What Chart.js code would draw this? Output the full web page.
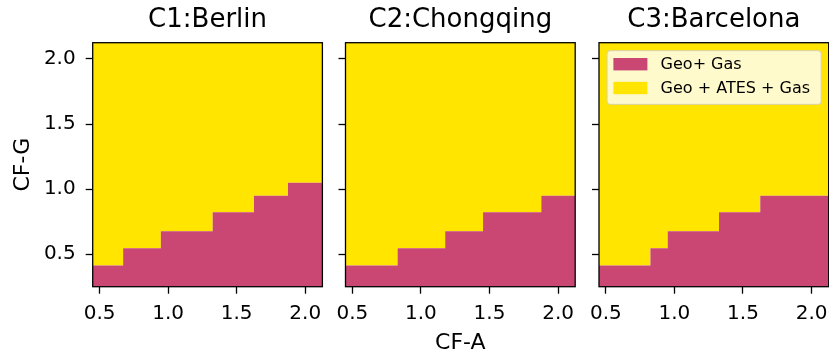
<!DOCTYPE html>
<html>
<head>
<meta charset="utf-8">
<script src="https://cdn.jsdelivr.net/npm/chart.js@4.4.1/dist/chart.umd.min.js"></script>
<style>
  html, body { margin: 0; padding: 0; background: #ffffff; overflow: hidden; width: 829px; height: 358px; }
  .panel { position: absolute; top: 0; }
</style>
</head>
<body>
<div class="panel" id="p0"><canvas id="c0"></canvas></div>
<div class="panel" id="p1"><canvas id="c1"></canvas></div>
<div class="panel" id="p2"><canvas id="c2"></canvas></div>
<script>
// ---- data ----
const cityTitles = ['C1:Berlin', 'C2:Chongqing', 'C3:Barcelona'];
const seriesLabels = ['Geo+ Gas', 'Geo + ATES + Gas'];

// CF-A positions where the boundary steps, and CF-G level of the boundary on each step
const berlinStepX    = [0.45, 0.672, 0.947, 1.325, 1.626, 1.874, 2.125];
const berlinStepY    = [0.413, 0.546, 0.677, 0.823, 0.949, 1.048];
const chongqingStepX = [0.45, 0.830, 1.177, 1.453, 1.878, 2.125];
const chongqingStepY = [0.413, 0.546, 0.677, 0.823, 0.949];
const barcelonaStepX = [0.45, 0.825, 0.951, 1.325, 1.626, 2.125];
const barcelonaStepY = [0.413, 0.546, 0.677, 0.823, 0.949];

const xTickValues = [0.5, 1.0, 1.5, 2.0];
const yTickValues = [0.5, 1.0, 1.5, 2.0];
const xRange = [0.45, 2.125];
const yRange = [0.25, 2.125];
const xAxisTitle = 'CF-A';
const yAxisTitle = 'CF-G';

// ---- styling / layout ----
const PINK = '#C94772';
const YELLOW = '#FFE500';
const INK = '#000000';
const FONT = "'DejaVu Sans', 'Liberation Sans', sans-serif";
const PLOT_W = 229.7;
const panels = [
  { left: 0,   yw: 92.7, stepX: berlinStepX,    stepY: berlinStepY,    showYLabels: true,  showXTitle: false, legend: false },
  { left: 315, yw: 30.5, stepX: chongqingStepX, stepY: chongqingStepY, showYLabels: false, showXTitle: true,  legend: false },
  { left: 569, yw: 30.0, stepX: barcelonaStepX, stepY: barcelonaStepY, showYLabels: false, showXTitle: false, legend: true  }
];

// points for a step line: horizontal run on each level, then a jump at the next break
function stepPoints(xs, ys) {
  const pts = [];
  for (let i = 0; i < ys.length; i++) pts.push({ x: xs[i], y: ys[i] });
  pts.push({ x: xs[xs.length - 1], y: ys[ys.length - 1] });
  return pts;
}

const framePlugin = {
  id: 'frame',
  afterDatasetsDraw(chart) {
    const a = chart.chartArea, ctx = chart.ctx;
    ctx.save();
    ctx.strokeStyle = INK;
    ctx.lineWidth = 1.3;
    ctx.strokeRect(a.left, a.top, a.right - a.left, a.bottom - a.top);
    ctx.restore();
  }
};

function roundRect(ctx, x, y, w, h, r) {
  ctx.beginPath();
  ctx.moveTo(x + r, y);
  ctx.lineTo(x + w - r, y);
  ctx.arcTo(x + w, y, x + w, y + r, r);
  ctx.lineTo(x + w, y + h - r);
  ctx.arcTo(x + w, y + h, x + w - r, y + h, r);
  ctx.lineTo(x + r, y + h);
  ctx.arcTo(x, y + h, x, y + h - r, r);
  ctx.lineTo(x, y + r);
  ctx.arcTo(x, y, x + r, y, r);
  ctx.closePath();
}

const innerLegendPlugin = {
  id: 'innerLegend',
  afterDraw(chart, args, opts) {
    if (!opts || !opts.show) return;
    const a = chart.chartArea, ctx = chart.ctx;
    const boxW = 214, boxH = 53.6;
    const bx = a.right - 7.6 - boxW, by = a.top + 8;
    ctx.save();
    roundRect(ctx, bx, by, boxW, boxH, 3);
    ctx.fillStyle = 'rgba(255,255,255,0.8)';
    ctx.fill();
    ctx.strokeStyle = 'rgba(204,204,204,0.8)';
    ctx.lineWidth = 1;
    ctx.stroke();
    ctx.font = '16px ' + FONT;
    ctx.textBaseline = 'middle';
    ctx.textAlign = 'left';
    chart.data.datasets.forEach((ds, i) => {
      const cy = by + 13.5 + i * 23.8;
      ctx.fillStyle = ds.backgroundColor;
      ctx.fillRect(bx + 6.3, cy - 6.2, 34, 12.4);
      ctx.fillStyle = INK;
      ctx.fillText(ds.label, bx + 53.5, cy + 0.5);
    });
    ctx.restore();
  }
};

panels.forEach((p, idx) => {
  const canvasW = Math.ceil(p.yw + PLOT_W + 21);
  const canvasH = 358;
  const div = document.getElementById('p' + idx);
  div.style.left = p.left + 'px';
  div.style.width = canvasW + 'px';
  div.style.height = canvasH + 'px';
  const cv = document.getElementById('c' + idx);
  cv.width = canvasW; cv.height = canvasH;
  cv.style.width = canvasW + 'px'; cv.style.height = canvasH + 'px';

  const pts = stepPoints(p.stepX, p.stepY);

  new Chart(cv, {
    type: 'line',
    data: {
      datasets: [
        { label: seriesLabels[0], data: pts, stepped: 'before', fill: 'start',
          backgroundColor: PINK, borderColor: PINK, borderWidth: 0, pointRadius: 0 },
        { label: seriesLabels[1], data: pts, stepped: 'before', fill: 'end',
          backgroundColor: YELLOW, borderColor: YELLOW, borderWidth: 0, pointRadius: 0 }
      ]
    },
    options: {
      responsive: false,
      animation: false,
      devicePixelRatio: 1,
      layout: { padding: { left: 0, top: 0, bottom: 0, right: canvasW - p.yw - PLOT_W } },
      plugins: {
        legend: { display: false },
        tooltip: { enabled: false },
        title: { display: false },
        innerLegend: { show: p.legend }
      },
      scales: {
        xTop: {
          type: 'linear', position: 'top', min: xRange[0], max: xRange[1],
          afterFit: s => { s.height = 42.7; },
          grid: { display: false, drawTicks: false },
          border: { display: false },
          ticks: { display: false },
          title: { display: true, text: cityTitles[idx], color: INK,
                   font: { family: FONT, size: 26, lineHeight: 1.2 }, padding: { top: 4.9, bottom: 0 } }
        },
        x: {
          type: 'linear', min: xRange[0], max: xRange[1],
          afterBuildTicks: s => { s.ticks = xTickValues.map(v => ({ value: v })); },
          afterFit: s => { s.height = 358 - 286.7; },
          grid: { drawOnChartArea: false, drawTicks: true, tickLength: 7, tickWidth: 1.3, tickColor: INK },
          border: { display: false },
          ticks: { autoSkip: false, maxRotation: 0, padding: 7.8, color: INK,
                   font: { family: FONT, size: 20 }, callback: v => Number(v).toFixed(1) },
          title: { display: p.showXTitle, text: xAxisTitle, color: INK,
                   font: { family: FONT, size: 22 }, padding: { top: 0, bottom: 2 } }
        },
        y: {
          type: 'linear', min: yRange[0], max: yRange[1],
          afterBuildTicks: s => { s.ticks = yTickValues.map(v => ({ value: v })); },
          afterFit: s => { s.width = p.yw; },
          grid: { drawOnChartArea: false, drawTicks: true, tickLength: 7, tickWidth: 1.3, tickColor: INK },
          border: { display: false },
          ticks: { autoSkip: false, padding: 10, color: INK,
                   font: { family: FONT, size: 20 },
                   callback: v => p.showYLabels ? Number(v).toFixed(1) : '' },
          title: { display: p.showYLabels, text: yAxisTitle, color: INK,
                   font: { family: FONT, size: 22 }, padding: { top: 10, bottom: 0 } }
        }
      }
    },
    plugins: [framePlugin, innerLegendPlugin]
  });
});
</script>
</body>
</html>
